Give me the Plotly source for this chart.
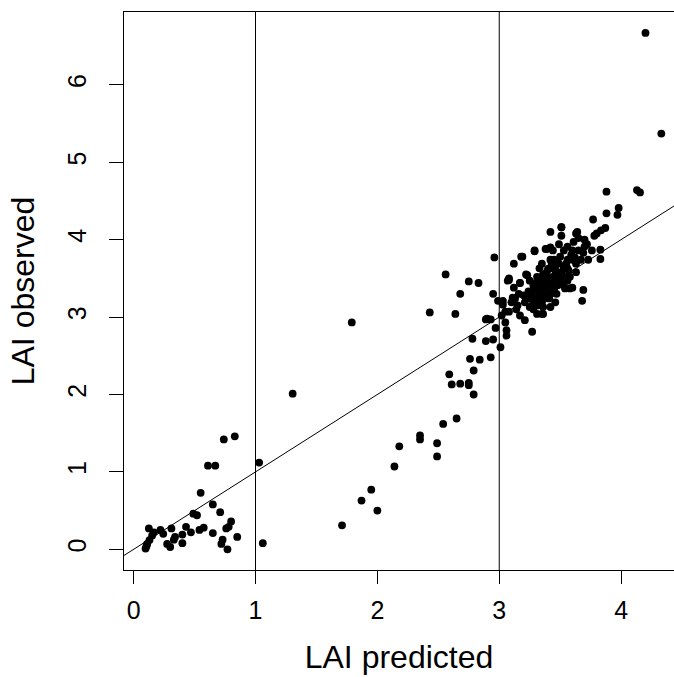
import plotly.graph_objects as go

# LAI predicted (x) and LAI observed (y)
low_x = [0.098, 0.111, 0.125, 0.152, 0.166, 0.22, 0.243, 0.275, 0.30, 0.31, 0.33, 0.34, 0.40, 0.40, 0.43,
         0.47, 0.49, 0.52, 0.55, 0.54, 0.575, 0.61, 0.67, 0.65, 0.65, 0.71, 0.72, 0.73, 0.74, 0.77, 0.76,
         0.78, 0.80, 0.83, 0.85, 1.03, 1.06, 1.305, 0.13, 0.105]
low_y = [0.01, 0.07, 0.27, 0.18, 0.22, 0.25, 0.20, 0.07, 0.03, 0.27, 0.125, 0.16, 0.08, 0.19, 0.29,
         0.22, 0.46, 0.44, 0.73, 0.25, 0.28, 1.08, 1.08, 0.58, 0.21, 0.48, 0.07, 0.125, 1.42, 0.0, 0.27,
         0.29, 0.36, 1.46, 0.16, 1.12, 0.08, 2.01, 0.12, 0.04]

mid_x = [1.79, 1.71, 1.87, 1.95, 2.00, 2.14, 2.18, 2.35, 2.35, 2.49, 2.49, 2.54, 2.65, 2.43, 2.56,
         2.64, 2.59, 2.61, 2.68, 2.68, 2.75, 2.75, 2.79, 2.79, 2.76, 2.84, 2.78, 2.75, 2.83, 2.93,
         2.89, 2.95, 2.89, 2.93, 2.97, 2.96, 2.95, 2.99, 3.03, 3.01, 3.07, 3.02, 3.05, 3.06, 3.06, 2.90]
mid_y = [2.93, 0.31, 0.63, 0.77, 0.50, 1.07, 1.33, 1.47, 1.42, 1.37, 1.20, 1.62, 1.69, 3.06, 3.55,
         3.04, 2.26, 2.13, 2.14, 3.30, 2.15, 2.12, 2.00, 2.31, 2.46, 2.45, 2.72, 3.46, 3.44, 2.48,
         2.69, 2.71, 2.97, 2.97, 2.86, 3.77, 3.30, 3.21, 3.21, 2.61, 3.47, 3.02, 2.93, 2.83, 2.76, 2.98]

hi_x = [3.08, 3.12, 3.12, 3.10, 3.08, 3.13, 3.17, 3.18, 3.22, 3.21, 3.17, 3.21, 3.27, 3.25, 3.29,
        3.28, 3.31, 3.30, 3.33, 3.35, 3.36, 3.39, 3.39, 3.42, 3.41, 3.42, 3.44, 3.45, 3.48, 3.49,
        3.51, 3.51, 3.53, 3.49, 3.55, 3.56, 3.60, 3.63, 3.61, 3.65, 3.65, 3.60, 3.56, 3.63, 3.69,
        3.70, 3.72, 3.73, 3.76, 3.70, 3.69, 3.49, 3.46, 3.41, 3.37, 3.26, 3.31, 3.42, 3.37, 3.33,
        3.35, 3.39, 3.44, 3.45, 3.56, 3.53, 3.56, 3.60, 3.14, 3.05, 3.03, 3.16, 3.22, 3.28, 3.30,
        3.53, 3.58, 3.63, 3.67, 3.25, 3.35, 3.44, 3.33, 3.30, 3.36, 3.42, 3.48, 3.51, 3.55, 3.42,
        3.31, 3.19, 3.29, 3.38, 3.42, 3.08, 3.17, 3.23, 3.58, 3.54, 3.35, 3.36, 3.42, 3.51, 3.64]
hi_y = [3.48, 3.69, 3.38, 3.19, 3.07, 3.24, 3.44, 3.78, 3.55, 3.19, 3.02, 2.96, 2.81, 3.13, 3.86,
        3.41, 3.52, 3.24, 3.33, 3.19, 3.04, 3.47, 3.88, 4.10, 3.63, 3.74, 3.52, 3.35, 3.41, 3.69,
        4.16, 4.05, 3.86, 3.94, 3.52, 3.63, 3.74, 4.08, 3.97, 4.02, 3.86, 3.38, 3.47, 3.58, 3.83,
        3.91, 3.94, 3.74, 3.86, 4.00, 3.35, 3.47, 3.19, 3.24, 3.24, 3.24, 3.19, 3.30, 3.30, 3.41,
        3.52, 3.58, 3.63, 3.74, 3.74, 3.63, 3.91, 3.86, 3.10, 3.07, 3.16, 3.30, 3.24, 3.19, 3.35,
        3.41, 3.52, 3.69, 3.74, 3.47, 3.69, 3.86, 3.63, 3.44, 3.37, 3.41, 3.52, 3.58, 3.69, 3.13,
        3.04, 3.78, 3.85, 3.88, 3.90, 3.50, 3.44, 3.54, 3.37, 3.37, 3.04, 3.13, 3.30, 4.16, 4.10]

core_x = [3.27, 3.29, 3.32, 3.34, 3.36, 3.38, 3.40, 3.43, 3.46, 3.47, 3.50, 3.52, 3.54, 3.57, 3.59,
          3.62, 3.31, 3.34, 3.37, 3.40, 3.43, 3.46, 3.50, 3.39, 3.45, 3.28, 3.24, 3.20, 3.15, 3.11]
core_y = [3.28, 3.36, 3.25, 3.45, 3.55, 3.38, 3.50, 3.45, 3.60, 3.30, 3.55, 3.48, 3.66, 3.60, 3.80,
          3.77, 3.15, 3.28, 3.48, 3.62, 3.70, 3.66, 3.78, 3.35, 3.40, 3.10, 3.33, 3.28, 3.15, 3.25]

top_x = [3.88, 4.13, 4.155, 3.98, 3.97, 3.88, 3.77, 3.87, 3.835, 3.80, 3.78, 3.83, 3.83, 3.68, 4.20, 4.33]
top_y = [4.62, 4.64, 4.61, 4.41, 4.32, 4.34, 4.26, 4.15, 4.12, 4.08, 4.05, 3.87, 3.75, 3.21, 6.67, 5.37]

lai_pred = low_x + mid_x + hi_x + core_x + top_x
lai_obs = low_y + mid_y + hi_y + core_y + top_y

x_ticks = [0, 1, 2, 3, 4]
y_ticks = [0, 1, 2, 3, 4, 5, 6]
x_range = [-0.079, 4.434]
y_range = [-0.267, 6.94]
vlines = [1, 3]

FONT = "Liberation Sans, Arial, sans-serif"

fig = go.Figure()
fig.add_trace(go.Scatter(
    x=lai_pred, y=lai_obs, mode="markers",
    marker=dict(color="black", size=7.8, line=dict(width=0)),
    hoverinfo="skip", showlegend=False,
))

shapes = []
for v in vlines:
    shapes.append(dict(type="line", xref="x", yref="y domain", x0=v, x1=v, y0=0, y1=1,
                       line=dict(color="black", width=1)))
shapes.append(dict(type="line", xref="x", yref="y", x0=x_range[0], y0=x_range[0],
                   x1=x_range[1], y1=x_range[1], line=dict(color="black", width=1)))

fig.update_layout(
    width=674, height=677,
    margin=dict(l=124, r=0, t=12, b=107),
    paper_bgcolor="white", plot_bgcolor="white",
    font=dict(family=FONT, color="black"),
    shapes=shapes,
    xaxis=dict(
        range=x_range, tickvals=x_ticks, ticks="outside", ticklen=13, tickwidth=1,
        tickcolor="black", showline=True, linecolor="black", linewidth=1, mirror=True,
        showgrid=False, zeroline=False, tickfont=dict(size=25, family=FONT),
        ticklabelstandoff=5, automargin=False,
        title=dict(text="LAI predicted", font=dict(size=32, family=FONT), standoff=22),
    ),
    yaxis=dict(
        range=y_range, tickvals=y_ticks, ticks="outside", ticklen=14, tickwidth=1,
        tickcolor="black", showline=True, linecolor="black", linewidth=1, mirror=True,
        showgrid=False, zeroline=False, tickfont=dict(size=25, family=FONT), tickangle=-90,
        ticklabelstandoff=13, automargin=False,
        title=dict(text="LAI observed", font=dict(size=32, family=FONT), standoff=18),
    ),
)

fig.write_html(
    "out.html",
    config={"displayModeBar": False},
    post_script="document.body.style.margin='0';document.body.style.overflow='hidden';",
)
